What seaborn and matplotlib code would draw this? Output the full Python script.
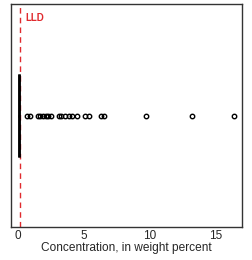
import matplotlib
matplotlib.use("Agg")
import matplotlib.pyplot as plt
import seaborn as sns
import pandas as pd

# values near detection limit (concentration, weight percent)
near_zero = [0.01, 0.02, 0.02, 0.03, 0.03, 0.03, 0.04, 0.04, 0.04, 0.04,
             0.05, 0.05, 0.05, 0.05, 0.05, 0.06, 0.06, 0.06, 0.06, 0.07,
             0.07, 0.07, 0.08, 0.08, 0.09, 0.01, 0.02, 0.03, 0.04, 0.05,
             0.05, 0.06, 0.04, 0.05, 0.06, 0.05, 0.04, 0.06, 0.05, 0.05,
             0.02, 0.03, 0.04, 0.05, 0.06, 0.07, 0.03, 0.04, 0.05, 0.06,
             0.04, 0.05, 0.05, 0.06, 0.04, 0.05, 0.03, 0.06, 0.05, 0.04,
             0.05, 0.05, 0.04, 0.06, 0.05, 0.03, 0.07, 0.04, 0.05, 0.06,
             0.02, 0.04, 0.05, 0.06, 0.05, 0.04, 0.05, 0.06, 0.05, 0.04,
             0.05, 0.04, 0.06, 0.05, 0.03, 0.05, 0.04, 0.06, 0.05, 0.05,
             0.04, 0.05, 0.06, 0.05, 0.04, 0.05, 0.03, 0.06, 0.05, 0.04,
             0.05, 0.04, 0.06, 0.05, 0.05, 0.04, 0.05, 0.06, 0.05, 0.04]
high_values = [0.7, 0.9, 1.5, 1.7, 1.9, 2.1, 2.3, 2.5, 3.1, 3.3, 3.6, 3.9,
               4.1, 4.5, 5.1, 5.4, 6.3, 6.5, 9.7, 13.2, 16.4]
lld = 0.15
xticks = [0, 5, 10, 15]

df = pd.DataFrame({"conc": near_zero + high_values})

sns.set_style("white")
plt.rcParams['font.family'] = ['Liberation Sans', 'DejaVu Sans']

fig = plt.figure(figsize=(2.52, 2.6), dpi=100)
ax = fig.add_axes([11/252, 33/260, 231/252, 223/260])

sns.boxplot(data=df, x="conc", orient="h", ax=ax, width=0.37, whis=3.0,
            color="white", linecolor="black", linewidth=1.8,
            capprops=dict(linewidth=0),
            flierprops=dict(marker="o", markersize=3.2, markerfacecolor="none",
                            markeredgecolor="black", markeredgewidth=1.0))

ax.axvline(lld, color="#e02a2e", linestyle=(0, (4, 3)), linewidth=1.0, zorder=0)
ax.text(0.55, 0.96, "LLD", transform=ax.get_xaxis_transform(), color="#e02a2e",
        fontsize=7, fontweight="bold", va="top", ha="left")

ax.set_xlim(-0.53, 17.0)
ax.set_ylim(0.5, -0.5)
ax.set_xticks(xticks)
ax.set_xticklabels([str(t) for t in xticks])
ax.set_yticks([])
ax.set_ylabel("")
ax.set_xlabel("Concentration, in weight percent", fontsize=8.6, labelpad=0)
ax.tick_params(axis="x", direction="inout", length=4, width=0.8, labelsize=8.5, pad=0.5, color="black")
for s in ax.spines.values():
    s.set_color("#333333")
    s.set_linewidth(1.0)

fig.savefig("out.png", dpi=100)
